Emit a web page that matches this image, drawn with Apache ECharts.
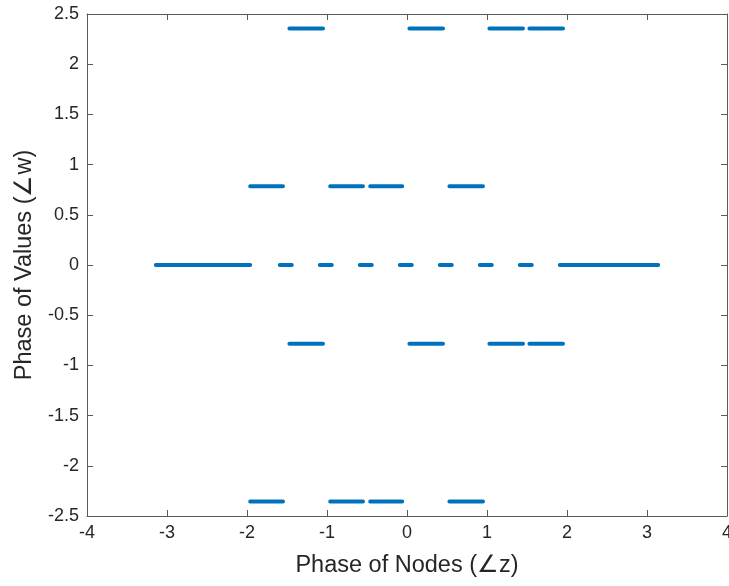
<!DOCTYPE html>
<html>
<head>
<meta charset="utf-8">
<script src="https://cdn.jsdelivr.net/npm/echarts@6/dist/echarts.min.js"></script>
<style>
  html, body { margin: 0; padding: 0; background: #fff; }
  #chart { width: 729px; height: 586px; }
</style>
</head>
<body>
<div id="chart"></div>
<script>
// phase levels of the values (y) and the x ranges of nodes that hit each level
const levels = [3 * Math.PI / 4, Math.PI / 4, 0, -Math.PI / 4, -3 * Math.PI / 4]
const rangesA = [[-1.47, -1.05], [0.03, 0.45], [1.03, 1.45], [1.53, 1.95]]
const rangesB = [[-1.96, -1.55], [-0.96, -0.55], [-0.46, -0.06], [0.53, 0.95]]
const rangesZero = [
    [-3.14, -1.96], [-1.59, -1.44], [-1.09, -0.94], [-0.59, -0.44], [-0.09, 0.06],
    [0.41, 0.56], [0.91, 1.06], [1.41, 1.56], [1.91, 3.14]
]
const levelRanges = [rangesA, rangesB, rangesZero, rangesA, rangesB]
const xTicks = [-4, -3, -2, -1, 0, 1, 2, 3, 4]
const yTicks = [-2.5, -2, -1.5, -1, -0.5, 0, 0.5, 1, 1.5, 2, 2.5]

const blue = '#0072BD'
const axisColor = '#5a5a5a'
const textColor = '#262626'
const font = 'Liberation Sans, Arial, sans-serif'

// one line series per level, segments broken by '-'
const series = levels.map((y, i) => {
    const data = []
    levelRanges[i].forEach(r => {
        data.push([r[0], y], [r[1], y], '-')
    })
    return {
        type: 'line',
        data: data,
        showSymbol: false,
        connectNulls: false,
        lineStyle: { color: blue, width: 4, cap: 'round' },
        silent: true,
        animation: false
    }
})

const chart = echarts.init(document.getElementById('chart'), null, { renderer: 'canvas' })

const baseAxis = {
    type: 'value',
    axisLine: { show: true, onZero: false, lineStyle: { color: axisColor, width: 1 } },
    axisTick: { show: true, inside: true, length: 6, lineStyle: { color: axisColor } },
    splitLine: { show: false }
}

chart.setOption({
    backgroundColor: '#fff',
    animation: false,
    grid: { left: 87, right: 2, top: 14, bottom: 70, containLabel: false, outerBoundsMode: 'none' },
    xAxis: [
        Object.assign({}, baseAxis, {
            min: xTicks[0], max: xTicks[xTicks.length - 1], interval: 1, position: 'bottom',
            axisLabel: { color: textColor, fontSize: 18, fontFamily: font, margin: 8 },
            name: 'Phase of Nodes (\u2220z)',
            nameLocation: 'middle',
            nameGap: 38,
            nameTextStyle: { color: textColor, fontSize: 23.5, fontFamily: font }
        }),
        Object.assign({}, baseAxis, {
            min: xTicks[0], max: xTicks[xTicks.length - 1], interval: 1, position: 'top',
            axisLabel: { show: false }
        })
    ],
    yAxis: [
        Object.assign({}, baseAxis, {
            min: yTicks[0], max: yTicks[yTicks.length - 1], interval: 0.5, position: 'left',
            axisLabel: { color: textColor, fontSize: 18, fontFamily: font, margin: 8 },
            name: 'Phase of Values (\u2220w)',
            nameLocation: 'middle',
            nameGap: 50,
            nameTextStyle: { color: textColor, fontSize: 23.5, fontFamily: font }
        }),
        Object.assign({}, baseAxis, {
            min: yTicks[0], max: yTicks[yTicks.length - 1], interval: 0.5, position: 'right',
            axisLabel: { show: false }
        })
    ],
    series: series
})
</script>
</body>
</html>
